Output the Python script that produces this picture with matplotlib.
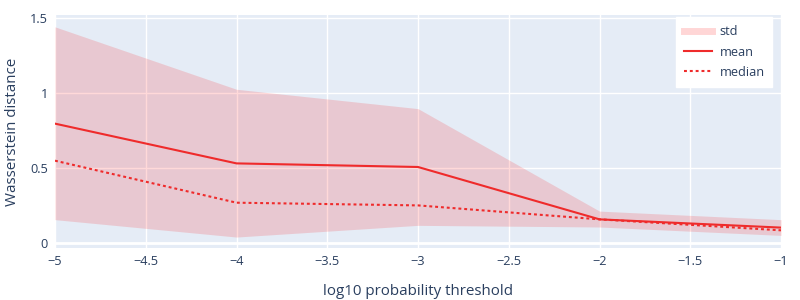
import matplotlib
matplotlib.use('Agg')
import matplotlib.pyplot as plt
from matplotlib.ticker import FuncFormatter, MultipleLocator
from matplotlib.lines import Line2D

plt.rcParams['font.family'] = ['Open Sans', 'DejaVu Sans']

# values
log_thresh = [-5, -4, -3, -2, -1]
mean_vals = [0.798, 0.533, 0.509, 0.160, 0.105]
median_vals = [0.551, 0.271, 0.253, 0.160, 0.087]
std_upper = [1.443, 1.027, 0.898, 0.215, 0.158]
std_lower = [0.158, 0.042, 0.120, 0.109, 0.053]

TXT = '#2a3f5f'
BG = '#e5ecf6'
RED = '#ef2b2b'

fig = plt.figure(figsize=(8, 3), dpi=100)
ax = fig.add_axes([0.06875, 0.1723, 0.9075, 0.7777])
ax.set_facecolor(BG)

ax.fill_between(log_thresh, std_lower, std_upper, color='red', alpha=0.15,
                linewidth=0, zorder=2)
ax.plot(log_thresh, mean_vals, color=RED, lw=1.5, zorder=3)
ax.plot(log_thresh, median_vals, color=RED, lw=1.5, dashes=(1.4, 1.4), zorder=3)

ax.set_xlim(-5, -1)
ax.set_ylim(-0.033, 1.522)
ax.xaxis.set_major_locator(MultipleLocator(0.5))
ax.set_yticks([0, 0.5, 1, 1.5])


def fmt(v, pos):
    s = ('%.2f' % v).rstrip('0').rstrip('.')
    return s.replace('-', '\u2212')


ax.xaxis.set_major_formatter(FuncFormatter(fmt))
ax.yaxis.set_major_formatter(FuncFormatter(fmt))

ax.grid(True, color='white', lw=1, zorder=1)
ax.axhline(0, color='white', lw=2, zorder=1)
ax.set_axisbelow(True)
for s in ax.spines.values():
    s.set_visible(False)
ax.tick_params(length=0, labelsize=9.2, labelcolor=TXT, pad=5)

ax.set_xlabel('log10 probability threshold', fontsize=10.9, color=TXT, labelpad=11)
ax.set_ylabel('Wasserstein distance', fontsize=10.9, color=TXT, labelpad=7)

handles = [
    Line2D([], [], color='#ffd6d6', lw=5),
    Line2D([], [], color=RED, lw=1.5),
    Line2D([], [], color=RED, lw=1.5, dashes=(1.4, 1.4)),
]
leg = ax.legend(handles, ['std', 'mean', 'median'], loc='upper right',
                bbox_to_anchor=(0.99, 0.995), borderaxespad=0.1,
                fontsize=9.2, frameon=True,
                fancybox=False, framealpha=1, edgecolor='white',
                handlelength=2.2, handletextpad=0.6, labelspacing=0.58,
                borderpad=0.6)
for t in leg.get_texts():
    t.set_color(TXT)

fig.savefig('out.png', dpi=100)
